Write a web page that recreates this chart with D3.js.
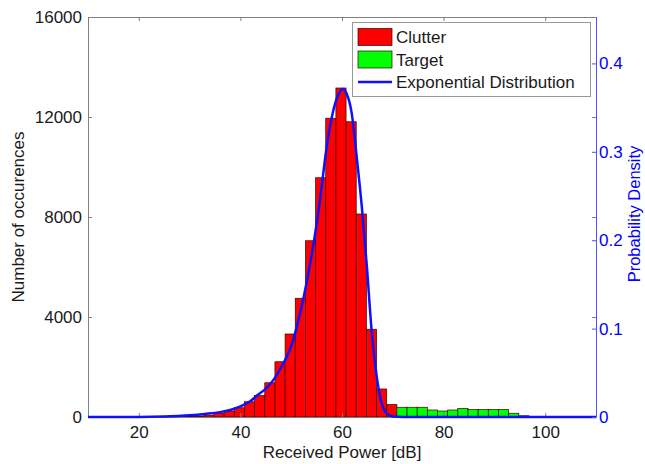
<!DOCTYPE html>
<html>
<head>
<meta charset="utf-8">
<script src="https://cdn.jsdelivr.net/npm/d3@7"></script>
<style>
body { margin: 0; background: #fff; }
text { font-family: "Liberation Sans", Arial, sans-serif; }
</style>
</head>
<body>
<div id="chart"></div>
<script>
var binWidth = 2;
var clutterCenters = [29.8, 31.8, 33.8, 35.8, 37.8, 39.8, 41.8, 43.8, 45.8, 47.8, 49.8,
    51.8, 53.8, 55.8, 57.8, 59.8, 61.8, 63.8, 65.8, 67.8, 69.8];
var clutterCounts = [20, 40, 80, 150, 240, 370, 610, 860, 1370, 2210, 3320,
    4750, 7050, 9570, 11950, 13160, 11810, 8120, 3510, 1120, 500];
var targetCenters = [71.8, 73.8, 75.8, 77.8, 79.8, 81.8, 83.8, 85.8, 87.8, 89.8, 91.8, 93.8, 95.8, 97.8];
var targetCounts = [390, 390, 390, 280, 240, 280, 340, 300, 300, 300, 300, 150, 50, 15];

// exponential distribution curve (right axis)
var pdfX = [10, 20, 25, 30, 33, 36, 38, 40, 42, 43.2, 45, 46.5, 48, 49.1, 50.4, 51, 52.4, 54.4,
    55.5, 57, 58.3, 59.3, 60.2, 60.9, 61.9, 62.9, 63.9, 64.9, 65.8, 66.5, 67.5, 68.8, 70, 72, 110];
var pdfY = [0, 0, 0.0005, 0.002, 0.0035, 0.0055, 0.008, 0.012, 0.018, 0.024, 0.032, 0.042, 0.056, 0.068, 0.087, 0.1, 0.134, 0.196,
    0.238, 0.306, 0.347, 0.365, 0.371, 0.366, 0.344, 0.294, 0.238, 0.17, 0.1, 0.061, 0.023, 0.004, 0.0005, 0, 0];

var xTicks = [20, 40, 60, 80, 100];
var countTicks = [0, 4000, 8000, 12000, 16000];
var densityTicks = [0, 0.1, 0.2, 0.3, 0.4];

var w = 645, h = 464;
var plotLeft = 88, plotRight = 596, plotTop = 17, plotBottom = 417;

var svg = d3.select("#chart").append("svg")
    .attr("width", w)
    .attr("height", h);

svg.append("rect").attr("width", w).attr("height", h).attr("fill", "#fff");

var xScale = d3.scaleLinear().domain([10, 110]).range([plotLeft, plotRight]);
var yCount = d3.scaleLinear().domain([0, 16000]).range([plotBottom, plotTop]);
var yDens = d3.scaleLinear().domain([0, 0.4525]).range([plotBottom, plotTop]);

// histogram bars
function drawBars(centers, counts, color) {
    svg.append("g").selectAll("rect")
        .data(counts)
        .enter()
        .append("rect")
        .attr("x", function(d, i) { return xScale(centers[i] - binWidth / 2); })
        .attr("y", function(d) { return yCount(d); })
        .attr("width", function(d, i) { return xScale(centers[i] + binWidth / 2) - xScale(centers[i] - binWidth / 2); })
        .attr("height", function(d) { return plotBottom - yCount(d); })
        .attr("fill", color)
        .attr("stroke", "#3a0000")
        .attr("stroke-width", 0.7);
}
drawBars(clutterCenters, clutterCounts, "#ff0000");
drawBars(targetCenters, targetCounts, "#00ff00");

// left axis
svg.append("g")
    .attr("transform", "translate(" + plotLeft + ",0)")
    .call(d3.axisLeft(yCount).tickValues(countTicks).tickSize(-4).tickSizeOuter(0).tickPadding(6)
        .tickFormat(d3.format("d")));
// top and mirrored ticks
svg.append("g")
    .attr("transform", "translate(0," + plotTop + ")")
    .call(d3.axisTop(xScale).tickValues(xTicks).tickSize(-4).tickSizeOuter(0).tickFormat(""));
svg.append("g")
    .attr("transform", "translate(" + plotRight + ",0)")
    .call(d3.axisRight(yCount).tickValues(countTicks).tickSize(-4).tickSizeOuter(0).tickFormat(""));
svg.append("g")
    .attr("transform", "translate(0," + plotBottom + ")")
    .call(d3.axisBottom(xScale).tickValues(xTicks).tickSize(-4).tickSizeOuter(0).tickPadding(9));

svg.selectAll(".domain, .tick line").attr("stroke", "#808080");
svg.selectAll(".tick text").attr("fill", "#1a1a1a").style("font-size", "17px");

// exponential curve
var line = d3.line()
    .x(function(d, i) { return xScale(pdfX[i]); })
    .y(function(d) { return yDens(d); })
    .curve(d3.curveMonotoneX);

svg.append("path")
    .datum(pdfY)
    .attr("d", line)
    .attr("fill", "none")
    .attr("stroke", "#1010ff")
    .attr("stroke-width", 2.5);

// right axis (density)
var gRight = svg.append("g")
    .attr("transform", "translate(" + plotRight + ",0)")
    .call(d3.axisRight(yDens).tickValues(densityTicks).tickSize(-4).tickSizeOuter(0).tickPadding(3)
        .tickFormat(function(d) { return d === 0 ? "0" : d3.format(".1f")(d); }));
gRight.selectAll(".domain, .tick line").attr("stroke", "#5050ff");
gRight.selectAll(".tick text").attr("fill", "#0000ff").style("font-size", "17px");

// axis titles
svg.append("text")
    .attr("x", xScale(60))
    .attr("y", 458)
    .attr("text-anchor", "middle")
    .attr("fill", "#1a1a1a")
    .style("font-size", "17px")
    .text("Received Power [dB]");

svg.append("text")
    .attr("transform", "translate(24," + (plotTop + plotBottom) / 2 + ") rotate(-90)")
    .attr("text-anchor", "middle")
    .attr("fill", "#1a1a1a")
    .style("font-size", "17px")
    .text("Number of occurences");

svg.append("text")
    .attr("transform", "translate(640,214) rotate(-90)")
    .attr("text-anchor", "middle")
    .attr("fill", "#0000ff")
    .style("font-size", "16.5px")
    .text("Probability Density");

// legend
var legend = svg.append("g");
legend.append("rect")
    .attr("x", 352.5).attr("y", 22.5)
    .attr("width", 238).attr("height", 74)
    .attr("fill", "#fff")
    .attr("stroke", "#999");

var legendItems = [
    { label: "Clutter", color: "#ff0000", type: "box" },
    { label: "Target", color: "#00ff00", type: "box" },
    { label: "Exponential Distribution", color: "#1010ff", type: "line" }
];

legendItems.forEach(function(item, i) {
    var cy = 37 + i * 22.5;
    if (item.type === "box") {
        legend.append("rect")
            .attr("x", 358).attr("y", cy - 8.5)
            .attr("width", 34).attr("height", 17)
            .attr("fill", item.color)
            .attr("stroke", "#3a0000")
            .attr("stroke-width", 0.7);
    } else {
        legend.append("line")
            .attr("x1", 358).attr("x2", 392)
            .attr("y1", cy).attr("y2", cy)
            .attr("stroke", item.color)
            .attr("stroke-width", 2.5);
    }
    legend.append("text")
        .attr("x", 396)
        .attr("y", cy + 6)
        .attr("fill", "#1a1a1a")
        .style("font-size", "17px")
        .text(item.label);
});
</script>
</body>
</html>
